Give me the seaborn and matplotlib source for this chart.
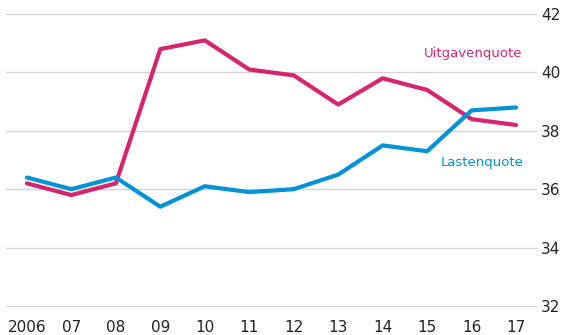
import matplotlib
matplotlib.use("Agg")
import matplotlib.pyplot as plt
import seaborn as sns
import pandas as pd

years = [2006, 2007, 2008, 2009, 2010, 2011, 2012, 2013, 2014, 2015, 2016, 2017]
year_labels = ["2006", "07", "08", "09", "10", "11", "12", "13", "14", "15", "16", "17"]
uitgavenquote = [36.2, 35.8, 36.2, 40.8, 41.1, 40.1, 39.9, 38.9, 39.8, 39.4, 38.4, 38.2]
lastenquote = [36.4, 36.0, 36.4, 35.4, 36.1, 35.9, 36.0, 36.5, 37.5, 37.3, 38.7, 38.8]
y_ticks = [32, 34, 36, 38, 40, 42]

pink = "#d6246e"
blue = "#0093d6"

df = pd.DataFrame({
    "jaar": years * 2,
    "quote": uitgavenquote + lastenquote,
    "reeks": ["Uitgavenquote"] * len(years) + ["Lastenquote"] * len(years),
})

sns.set_theme(style="white")
plt.rcParams["font.family"] = ["DejaVu Sans"]

fig = plt.figure(figsize=(5.79, 3.35), dpi=100)
ax = fig.add_axes([6 / 579, 1 - 306.5 / 335, (537 - 6) / 579, (306.5 - 13.5) / 335])

sns.lineplot(data=df, x="jaar", y="quote", hue="reeks",
             palette={"Uitgavenquote": pink, "Lastenquote": blue},
             linewidth=3.0, legend=False, ax=ax)

ax.set_xlim(2005.53, 2017.47)
ax.set_ylim(31.98, 42.02)
ax.set_yticks(y_ticks)
ax.set_yticklabels([str(v) for v in y_ticks])
ax.set_xticks(years)
ax.set_xticklabels(year_labels)
ax.yaxis.tick_right()
ax.grid(axis="y", color="#d4d4d4", linewidth=1.0)
ax.grid(axis="x", visible=False)
ax.set_axisbelow(True)
for s in ax.spines.values():
    s.set_visible(False)
ax.tick_params(axis="y", length=0, pad=3, labelsize=11, labelcolor="#222222")
ax.tick_params(axis="x", length=0, pad=10, labelsize=11, labelcolor="#222222")
ax.set_xlabel("")
ax.set_ylabel("")

ax.text(2017.14, 40.66, "Uitgavenquote", color=pink, fontsize=9.5, ha="right", va="center")
ax.text(2017.18, 36.9, "Lastenquote", color=blue, fontsize=9.5, ha="right", va="center")

fig.savefig("out.png", dpi=100)
